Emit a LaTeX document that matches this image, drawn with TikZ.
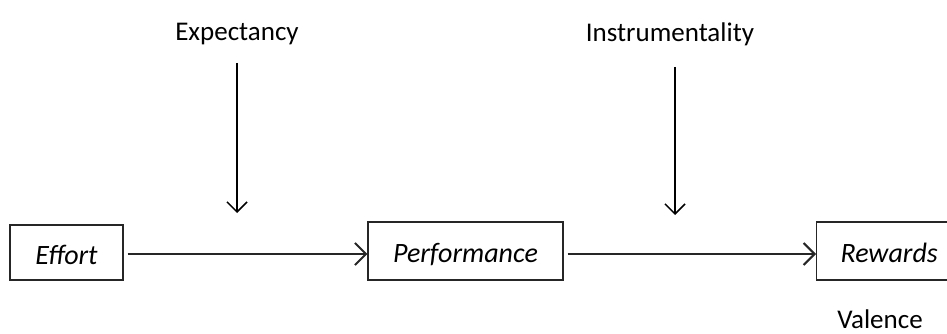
\documentclass[tikz,border=0pt]{standalone}
\usepackage{fontspec}
\setmainfont{Carlito}
\usetikzlibrary{arrows.meta}
\begin{document}
\begin{tikzpicture}[x=1pt,y=-1pt,
  box/.style={draw=black!85,line width=1.3pt,inner sep=0pt,text height=24pt,text depth=1pt,font=\fontsize{28}{32}\selectfont\itshape},
  lab/.style={inner sep=0pt,text height=19pt,text depth=6pt,font=\fontsize{27}{31}\selectfont},
  harrow/.style={line width=2pt,black!85,-{Straight Barb[length=11pt,width=22pt,line width=2pt]}},
  varrow/.style={line width=1.5pt,-{Straight Barb[length=10pt,width=20pt,line width=1.5pt]}}]
\useasboundingbox (0,0) rectangle (947,334);
\node[box,minimum width=113pt,minimum height=55pt] (eff) at (66.5,252.5) {Effort};
\node[box,minimum width=195pt,minimum height=58pt] (perf) at (465.5,251) {Performance};
\node[box,minimum width=131pt,minimum height=58pt,anchor=west] (rew) at (816,251) {\hspace*{14pt}Rewards};
\node[lab] (exp) at (237,34) {Expectancy};
\node[lab] (ins) at (670,35) {Instrumentality};
\node[lab] (val) at (880,322) {Valence};
\coordinate (e0) at (237,63);
\coordinate (e1) at (237,213);
\coordinate (i0) at (675,67);
\coordinate (i1) at (675,215);
\draw[harrow] (eff.east |- 0,254) ++(4,0) -- (perf.west |- 0,254);
\draw[harrow] (perf.east |- 0,254) ++(4,0) -- (rew.west |- 0,254);
\draw[varrow] (e0) -- (e1);
\draw[varrow] (i0) -- (i1);
\end{tikzpicture}
\end{document}
